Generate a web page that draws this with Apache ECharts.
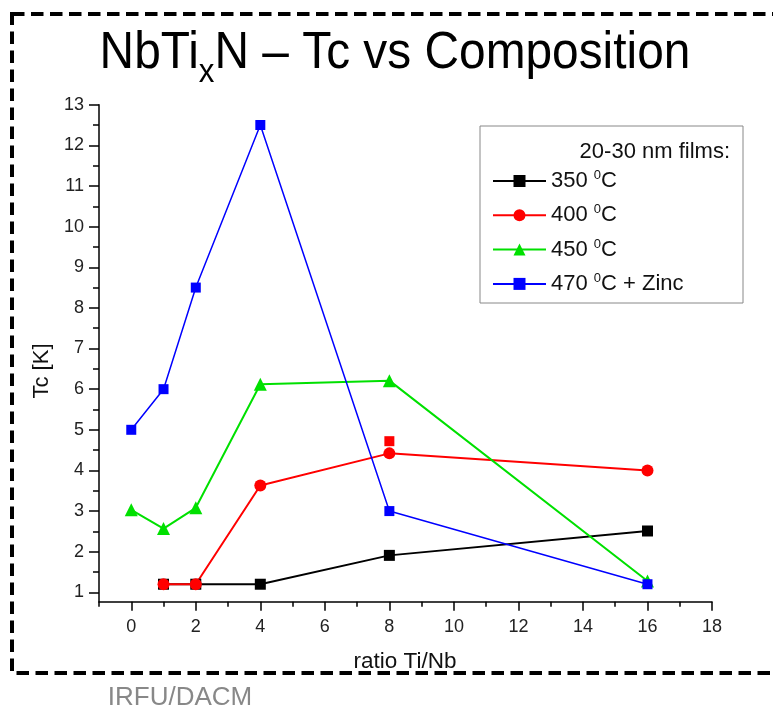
<!DOCTYPE html>
<html><head><meta charset="utf-8">
<script src="https://cdn.jsdelivr.net/npm/echarts@6/dist/echarts.min.js"></script>
<style>html,body{margin:0;padding:0;background:#fff}#c{width:773px;height:711px}</style>
</head><body><div id="c"></div>
<script>
// ---- data ----
const x350 = [1, 2, 4, 8, 16];
const tc350 = [1.2, 1.2, 1.2, 1.91, 2.51];
const x400 = [1, 2, 4, 8, 16];
const tc400 = [1.2, 1.2, 3.63, 4.42, 4.0];
const x400extra = [8];
const tc400extra = [4.72];
const x450 = [0, 1, 2, 4, 8, 16];
const tc450 = [3.03, 2.57, 3.08, 6.12, 6.21, 1.28];
const x470 = [0, 1, 2, 4, 8, 16];
const tc470 = [5.0, 6.0, 8.5, 12.5, 3.0, 1.2];

const xMajor = [0, 2, 4, 6, 8, 10, 12, 14, 16, 18];
const xMinor = [-1, 1, 3, 5, 7, 9, 11, 13, 15, 17];
const yMajor = [1, 2, 3, 4, 5, 6, 7, 8, 9, 10, 11, 12, 13];
const yMinor = [1.5, 2.5, 3.5, 4.5, 5.5, 6.5, 7.5, 8.5, 9.5, 10.5, 11.5, 12.5];

const legendNames = ['350', '400', '450', '470'];
const legendLabels = {
  '350': '{t|350 }{s|0}{t|C}',
  '400': '{t|400 }{s|0}{t|C}',
  '450': '{t|450 }{s|0}{t|C}',
  '470': '{t|470 }{s|0}{t|C + Zinc}'
};

const zip = (xs, ys) => xs.map((x, i) => [x, ys[i]]);
const FONT = '"Liberation Sans", Arial, sans-serif';

const chart = echarts.init(document.getElementById('c'), null, {renderer: 'canvas'});

const option = {
  backgroundColor: '#fff',
  animation: false,
  grid: {left: 99, right: 61, top: 104.7, bottom: 109.3, containLabel: false},
  xAxis: [
    {
      type: 'value', min: -1, max: 18, position: 'bottom',
      axisLine: {show: true, onZero: false, lineStyle: {color: '#000', width: 1.5}},
      axisTick: {show: true, customValues: xMajor, length: 9, lineStyle: {color: '#000', width: 1.5}},
      axisLabel: {show: true, customValues: xMajor, fontSize: 18, color: '#222', margin: 16, fontFamily: FONT},
      splitLine: {show: false}
    },
    {
      type: 'value', min: -1, max: 18, position: 'bottom',
      axisLine: {show: false, onZero: false},
      axisTick: {show: true, customValues: xMinor, length: 5, lineStyle: {color: '#000', width: 1.5}},
      axisLabel: {show: false},
      splitLine: {show: false}
    }
  ],
  yAxis: [
    {
      type: 'value', min: 0.77, max: 13, position: 'left',
      axisLine: {show: true, onZero: false, lineStyle: {color: '#000', width: 1.5}},
      axisTick: {show: true, customValues: yMajor, length: 10, lineStyle: {color: '#000', width: 1.5}},
      axisLabel: {show: true, customValues: yMajor, fontSize: 18, color: '#222', margin: 15, fontFamily: FONT},
      splitLine: {show: false}
    },
    {
      type: 'value', min: 0.77, max: 13, position: 'left',
      axisLine: {show: false, onZero: false},
      axisTick: {show: true, customValues: yMinor, length: 6, lineStyle: {color: '#000', width: 1.5}},
      axisLabel: {show: false},
      splitLine: {show: false}
    }
  ],
  legend: {
    data: legendNames,
    orient: 'vertical',
    left: 492, top: 169,
    itemWidth: 53, itemHeight: 15, itemGap: 11.3,
    padding: 0,
    formatter: n => legendLabels[n],
    textStyle: {
      fontFamily: FONT, color: '#111', fontSize: 22,
      rich: {
        t: {fontSize: 22, lineHeight: 24, fontFamily: FONT, color: '#111'},
        s: {fontSize: 13, lineHeight: 12, verticalAlign: 'top', fontFamily: FONT, color: '#111'}
      }
    }
  },
  series: [
    {
      name: '350', type: 'line', data: zip(x350, tc350),
      symbol: 'rect', symbolSize: 11,
      lineStyle: {color: '#000', width: 2}, itemStyle: {color: '#000'}
    },
    {
      name: '400', type: 'line', data: zip(x400, tc400),
      symbol: 'circle', symbolSize: 12,
      lineStyle: {color: '#ff0000', width: 2}, itemStyle: {color: '#ff0000'}
    },
    {
      name: '400b', type: 'scatter', data: zip(x400extra, tc400extra),
      symbol: 'rect', symbolSize: 10, itemStyle: {color: '#ff0000', opacity: 1}
    },
    {
      name: '450', type: 'line', data: zip(x450, tc450),
      symbol: 'triangle', symbolSize: 13,
      lineStyle: {color: '#00e000', width: 2}, itemStyle: {color: '#00e000'}
    },
    {
      name: '470', type: 'line', data: zip(x470, tc470),
      symbol: 'rect', symbolSize: 10,
      lineStyle: {color: '#0000ff', width: 1.5}, itemStyle: {color: '#0000ff'}
    }
  ],
  graphic: [
    {
      type: 'rect', shape: {x: 12, y: 14, width: 800, height: 659},
      style: {fill: 'none', stroke: '#000', lineWidth: 4, lineDash: [12.5, 6.5]},
      silent: true
    },
    {
      type: 'rect', shape: {x: 480, y: 126, width: 263, height: 177},
      style: {fill: 'none', stroke: '#888', lineWidth: 1},
      silent: true
    },
    {
      type: 'text', x: 730, y: 152,
      style: {text: '20-30 nm films:', fontSize: 22, fontFamily: FONT, fill: '#111', align: 'right', verticalAlign: 'middle'}
    },
    {
      type: 'text', x: 395, y: 54, scaleX: 0.92,
      style: {
        text: '{a|NbTi}{b|x}{a|N \u2013 Tc vs Composition}',
        align: 'center', verticalAlign: 'middle',
        rich: {
          a: {fontSize: 52, lineHeight: 71, fontFamily: FONT, fill: '#000'},
          b: {fontSize: 34, lineHeight: 34, verticalAlign: 'bottom', fontFamily: FONT, fill: '#000'}
        }
      }
    },
    {
      type: 'text', x: 42, y: 371, rotation: Math.PI / 2,
      style: {text: 'Tc [K]', fontSize: 22, fontFamily: FONT, fill: '#111', align: 'center', verticalAlign: 'middle'}
    },
    {
      type: 'text', x: 405, y: 662,
      style: {text: 'ratio Ti/Nb', fontSize: 22.5, fontFamily: FONT, fill: '#111', align: 'center', verticalAlign: 'middle'}
    },
    {
      type: 'text', x: 180, y: 698,
      style: {text: 'IRFU/DACM', fontSize: 26, fontFamily: FONT, fill: '#888', align: 'center', verticalAlign: 'middle'}
    }
  ]
};
chart.setOption(option);
</script>
</body></html>
